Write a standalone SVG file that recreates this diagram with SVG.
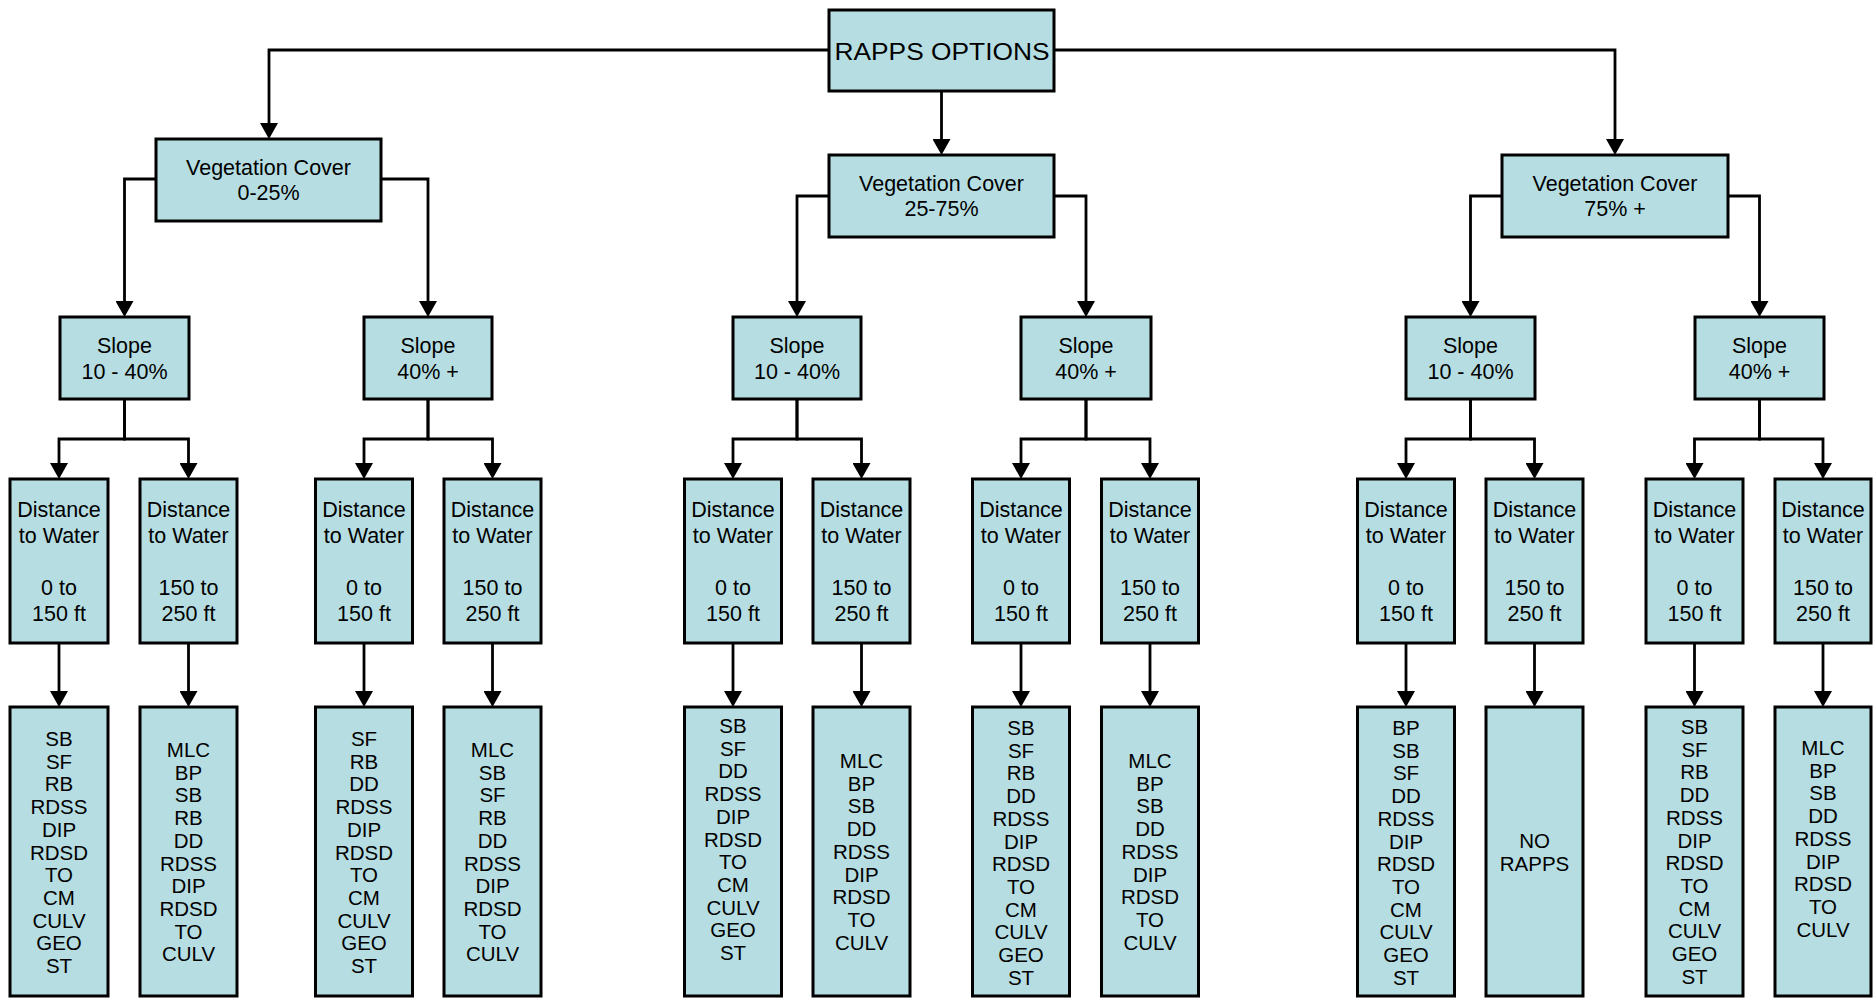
<svg xmlns="http://www.w3.org/2000/svg" width="1874" height="998" viewBox="0 0 1874 998">
<style>
.box{fill:#b6dee2;stroke:#000;stroke-width:3}
.t{font-family:"Liberation Sans",Arial,sans-serif;font-size:21.5px;fill:#000;text-anchor:middle}
.r{font-family:"Liberation Sans",Arial,sans-serif;font-size:20.5px;fill:#000;text-anchor:middle}
.c{fill:none;stroke:#000;stroke-width:2.8;marker-end:url(#ah)}
</style>
<defs>
<marker id="ah" viewBox="0 0 16 18" refX="0" refY="9" markerWidth="16" markerHeight="18" markerUnits="userSpaceOnUse" orient="auto">
<path d="M0,0 L16,9 L0,18 z" fill="#000"/>
</marker>
</defs>
<rect width="1874" height="998" fill="#fff"/>
<g id="connectors">
<path class="c" d="M829,50 H269 V123"/>
<path class="c" d="M1054,50 H1615 V139"/>
<path class="c" d="M941.5,91 V139"/>
<path class="c" d="M156,179 H124.5 V301"/>
<path class="c" d="M381,179 H428 V301"/>
<path class="c" d="M829,196 H797 V301"/>
<path class="c" d="M1054,196 H1086 V301"/>
<path class="c" d="M1502,196 H1470.5 V301"/>
<path class="c" d="M1728,196 H1759.5 V301"/>
<path class="c" d="M124.5,399 V439 H59 V463"/>
<path class="c" d="M124.5,399 V439 H188.5 V463"/>
<path class="c" d="M428,399 V439 H364 V463"/>
<path class="c" d="M428,399 V439 H492.5 V463"/>
<path class="c" d="M797,399 V439 H733 V463"/>
<path class="c" d="M797,399 V439 H861.5 V463"/>
<path class="c" d="M1086,399 V439 H1021 V463"/>
<path class="c" d="M1086,399 V439 H1150 V463"/>
<path class="c" d="M1470.5,399 V439 H1406 V463"/>
<path class="c" d="M1470.5,399 V439 H1534.5 V463"/>
<path class="c" d="M1759.5,399 V439 H1694.5 V463"/>
<path class="c" d="M1759.5,399 V439 H1823 V463"/>
<path class="c" d="M59,643 V691"/>
<path class="c" d="M188.5,643 V691"/>
<path class="c" d="M364,643 V691"/>
<path class="c" d="M492.5,643 V691"/>
<path class="c" d="M733,643 V691"/>
<path class="c" d="M861.5,643 V691"/>
<path class="c" d="M1021,643 V691"/>
<path class="c" d="M1150,643 V691"/>
<path class="c" d="M1406,643 V691"/>
<path class="c" d="M1534.5,643 V691"/>
<path class="c" d="M1694.5,643 V691"/>
<path class="c" d="M1823,643 V691"/>
</g>
<g id="root"><rect class="box" x="829" y="10" width="225" height="81"/><text class="t" x="942" y="60" style="font-size:24px" textLength="215" lengthAdjust="spacingAndGlyphs">RAPPS OPTIONS</text></g>
<g id="veg1"><rect class="box" x="156" y="139" width="225" height="82"/><text class="t" x="268.5" y="175">Vegetation Cover</text><text class="t" x="268.5" y="200">0-25%</text></g>
<g id="veg2"><rect class="box" x="829" y="155" width="225" height="82"/><text class="t" x="941.5" y="191">Vegetation Cover</text><text class="t" x="941.5" y="216">25-75%</text></g>
<g id="veg3"><rect class="box" x="1502" y="155" width="226" height="82"/><text class="t" x="1615" y="191">Vegetation Cover</text><text class="t" x="1615" y="216">75% +</text></g>
<g id="slope1"><rect class="box" x="60" y="317" width="129" height="82"/><text class="t" x="124.5" y="353">Slope</text><text class="t" x="124.5" y="379">10 - 40%</text></g>
<g id="slope2"><rect class="box" x="364" y="317" width="128" height="82"/><text class="t" x="428" y="353">Slope</text><text class="t" x="428" y="379">40% +</text></g>
<g id="slope3"><rect class="box" x="733" y="317" width="128" height="82"/><text class="t" x="797" y="353">Slope</text><text class="t" x="797" y="379">10 - 40%</text></g>
<g id="slope4"><rect class="box" x="1021" y="317" width="130" height="82"/><text class="t" x="1086" y="353">Slope</text><text class="t" x="1086" y="379">40% +</text></g>
<g id="slope5"><rect class="box" x="1406" y="317" width="129" height="82"/><text class="t" x="1470.5" y="353">Slope</text><text class="t" x="1470.5" y="379">10 - 40%</text></g>
<g id="slope6"><rect class="box" x="1695" y="317" width="129" height="82"/><text class="t" x="1759.5" y="353">Slope</text><text class="t" x="1759.5" y="379">40% +</text></g>
<g id="dist1"><rect class="box" x="10" y="479" width="98" height="164"/><text class="t" x="59" y="517">Distance</text><text class="t" x="59" y="543">to Water</text><text class="t" x="59" y="595">0 to</text><text class="t" x="59" y="621">150 ft</text></g>
<g id="dist2"><rect class="box" x="140" y="479" width="97" height="164"/><text class="t" x="188.5" y="517">Distance</text><text class="t" x="188.5" y="543">to Water</text><text class="t" x="188.5" y="595">150 to</text><text class="t" x="188.5" y="621">250 ft</text></g>
<g id="dist3"><rect class="box" x="315.5" y="479" width="97" height="164"/><text class="t" x="364" y="517">Distance</text><text class="t" x="364" y="543">to Water</text><text class="t" x="364" y="595">0 to</text><text class="t" x="364" y="621">150 ft</text></g>
<g id="dist4"><rect class="box" x="444" y="479" width="97" height="164"/><text class="t" x="492.5" y="517">Distance</text><text class="t" x="492.5" y="543">to Water</text><text class="t" x="492.5" y="595">150 to</text><text class="t" x="492.5" y="621">250 ft</text></g>
<g id="dist5"><rect class="box" x="684.5" y="479" width="97" height="164"/><text class="t" x="733" y="517">Distance</text><text class="t" x="733" y="543">to Water</text><text class="t" x="733" y="595">0 to</text><text class="t" x="733" y="621">150 ft</text></g>
<g id="dist6"><rect class="box" x="813" y="479" width="97" height="164"/><text class="t" x="861.5" y="517">Distance</text><text class="t" x="861.5" y="543">to Water</text><text class="t" x="861.5" y="595">150 to</text><text class="t" x="861.5" y="621">250 ft</text></g>
<g id="dist7"><rect class="box" x="972.5" y="479" width="97" height="164"/><text class="t" x="1021" y="517">Distance</text><text class="t" x="1021" y="543">to Water</text><text class="t" x="1021" y="595">0 to</text><text class="t" x="1021" y="621">150 ft</text></g>
<g id="dist8"><rect class="box" x="1101.5" y="479" width="97" height="164"/><text class="t" x="1150" y="517">Distance</text><text class="t" x="1150" y="543">to Water</text><text class="t" x="1150" y="595">150 to</text><text class="t" x="1150" y="621">250 ft</text></g>
<g id="dist9"><rect class="box" x="1357.5" y="479" width="97" height="164"/><text class="t" x="1406" y="517">Distance</text><text class="t" x="1406" y="543">to Water</text><text class="t" x="1406" y="595">0 to</text><text class="t" x="1406" y="621">150 ft</text></g>
<g id="dist10"><rect class="box" x="1486" y="479" width="97" height="164"/><text class="t" x="1534.5" y="517">Distance</text><text class="t" x="1534.5" y="543">to Water</text><text class="t" x="1534.5" y="595">150 to</text><text class="t" x="1534.5" y="621">250 ft</text></g>
<g id="dist11"><rect class="box" x="1646" y="479" width="97" height="164"/><text class="t" x="1694.5" y="517">Distance</text><text class="t" x="1694.5" y="543">to Water</text><text class="t" x="1694.5" y="595">0 to</text><text class="t" x="1694.5" y="621">150 ft</text></g>
<g id="dist12"><rect class="box" x="1775" y="479" width="96" height="164"/><text class="t" x="1823" y="517">Distance</text><text class="t" x="1823" y="543">to Water</text><text class="t" x="1823" y="595">150 to</text><text class="t" x="1823" y="621">250 ft</text></g>
<g id="res1"><rect class="box" x="10" y="707" width="98" height="289"/><text class="r" y="746"><tspan x="59">SB</tspan><tspan x="59" dy="22.7">SF</tspan><tspan x="59" dy="22.7">RB</tspan><tspan x="59" dy="22.7">RDSS</tspan><tspan x="59" dy="22.7">DIP</tspan><tspan x="59" dy="22.7">RDSD</tspan><tspan x="59" dy="22.7">TO</tspan><tspan x="59" dy="22.7">CM</tspan><tspan x="59" dy="22.7">CULV</tspan><tspan x="59" dy="22.7">GEO</tspan><tspan x="59" dy="22.7">ST</tspan></text></g>
<g id="res2"><rect class="box" x="140" y="707" width="97" height="289"/><text class="r" y="757"><tspan x="188.5">MLC</tspan><tspan x="188.5" dy="22.7">BP</tspan><tspan x="188.5" dy="22.7">SB</tspan><tspan x="188.5" dy="22.7">RB</tspan><tspan x="188.5" dy="22.7">DD</tspan><tspan x="188.5" dy="22.7">RDSS</tspan><tspan x="188.5" dy="22.7">DIP</tspan><tspan x="188.5" dy="22.7">RDSD</tspan><tspan x="188.5" dy="22.7">TO</tspan><tspan x="188.5" dy="22.7">CULV</tspan></text></g>
<g id="res3"><rect class="box" x="315.5" y="707" width="97" height="289"/><text class="r" y="746"><tspan x="364">SF</tspan><tspan x="364" dy="22.7">RB</tspan><tspan x="364" dy="22.7">DD</tspan><tspan x="364" dy="22.7">RDSS</tspan><tspan x="364" dy="22.7">DIP</tspan><tspan x="364" dy="22.7">RDSD</tspan><tspan x="364" dy="22.7">TO</tspan><tspan x="364" dy="22.7">CM</tspan><tspan x="364" dy="22.7">CULV</tspan><tspan x="364" dy="22.7">GEO</tspan><tspan x="364" dy="22.7">ST</tspan></text></g>
<g id="res4"><rect class="box" x="444" y="707" width="97" height="289"/><text class="r" y="757"><tspan x="492.5">MLC</tspan><tspan x="492.5" dy="22.7">SB</tspan><tspan x="492.5" dy="22.7">SF</tspan><tspan x="492.5" dy="22.7">RB</tspan><tspan x="492.5" dy="22.7">DD</tspan><tspan x="492.5" dy="22.7">RDSS</tspan><tspan x="492.5" dy="22.7">DIP</tspan><tspan x="492.5" dy="22.7">RDSD</tspan><tspan x="492.5" dy="22.7">TO</tspan><tspan x="492.5" dy="22.7">CULV</tspan></text></g>
<g id="res5"><rect class="box" x="684.5" y="707" width="97" height="289"/><text class="r" y="733"><tspan x="733">SB</tspan><tspan x="733" dy="22.7">SF</tspan><tspan x="733" dy="22.7">DD</tspan><tspan x="733" dy="22.7">RDSS</tspan><tspan x="733" dy="22.7">DIP</tspan><tspan x="733" dy="22.7">RDSD</tspan><tspan x="733" dy="22.7">TO</tspan><tspan x="733" dy="22.7">CM</tspan><tspan x="733" dy="22.7">CULV</tspan><tspan x="733" dy="22.7">GEO</tspan><tspan x="733" dy="22.7">ST</tspan></text></g>
<g id="res6"><rect class="box" x="813" y="707" width="97" height="289"/><text class="r" y="768"><tspan x="861.5">MLC</tspan><tspan x="861.5" dy="22.7">BP</tspan><tspan x="861.5" dy="22.7">SB</tspan><tspan x="861.5" dy="22.7">DD</tspan><tspan x="861.5" dy="22.7">RDSS</tspan><tspan x="861.5" dy="22.7">DIP</tspan><tspan x="861.5" dy="22.7">RDSD</tspan><tspan x="861.5" dy="22.7">TO</tspan><tspan x="861.5" dy="22.7">CULV</tspan></text></g>
<g id="res7"><rect class="box" x="972.5" y="707" width="97" height="289"/><text class="r" y="735"><tspan x="1021">SB</tspan><tspan x="1021" dy="22.7">SF</tspan><tspan x="1021" dy="22.7">RB</tspan><tspan x="1021" dy="22.7">DD</tspan><tspan x="1021" dy="22.7">RDSS</tspan><tspan x="1021" dy="22.7">DIP</tspan><tspan x="1021" dy="22.7">RDSD</tspan><tspan x="1021" dy="22.7">TO</tspan><tspan x="1021" dy="22.7">CM</tspan><tspan x="1021" dy="22.7">CULV</tspan><tspan x="1021" dy="22.7">GEO</tspan><tspan x="1021" dy="22.7">ST</tspan></text></g>
<g id="res8"><rect class="box" x="1101.5" y="707" width="97" height="289"/><text class="r" y="768"><tspan x="1150">MLC</tspan><tspan x="1150" dy="22.7">BP</tspan><tspan x="1150" dy="22.7">SB</tspan><tspan x="1150" dy="22.7">DD</tspan><tspan x="1150" dy="22.7">RDSS</tspan><tspan x="1150" dy="22.7">DIP</tspan><tspan x="1150" dy="22.7">RDSD</tspan><tspan x="1150" dy="22.7">TO</tspan><tspan x="1150" dy="22.7">CULV</tspan></text></g>
<g id="res9"><rect class="box" x="1357.5" y="707" width="97" height="289"/><text class="r" y="735"><tspan x="1406">BP</tspan><tspan x="1406" dy="22.7">SB</tspan><tspan x="1406" dy="22.7">SF</tspan><tspan x="1406" dy="22.7">DD</tspan><tspan x="1406" dy="22.7">RDSS</tspan><tspan x="1406" dy="22.7">DIP</tspan><tspan x="1406" dy="22.7">RDSD</tspan><tspan x="1406" dy="22.7">TO</tspan><tspan x="1406" dy="22.7">CM</tspan><tspan x="1406" dy="22.7">CULV</tspan><tspan x="1406" dy="22.7">GEO</tspan><tspan x="1406" dy="22.7">ST</tspan></text></g>
<g id="res10"><rect class="box" x="1486" y="707" width="97" height="289"/><text class="r" y="848"><tspan x="1534.5">NO</tspan><tspan x="1534.5" dy="22.7">RAPPS</tspan></text></g>
<g id="res11"><rect class="box" x="1646" y="707" width="97" height="289"/><text class="r" y="734"><tspan x="1694.5">SB</tspan><tspan x="1694.5" dy="22.7">SF</tspan><tspan x="1694.5" dy="22.7">RB</tspan><tspan x="1694.5" dy="22.7">DD</tspan><tspan x="1694.5" dy="22.7">RDSS</tspan><tspan x="1694.5" dy="22.7">DIP</tspan><tspan x="1694.5" dy="22.7">RDSD</tspan><tspan x="1694.5" dy="22.7">TO</tspan><tspan x="1694.5" dy="22.7">CM</tspan><tspan x="1694.5" dy="22.7">CULV</tspan><tspan x="1694.5" dy="22.7">GEO</tspan><tspan x="1694.5" dy="22.7">ST</tspan></text></g>
<g id="res12"><rect class="box" x="1775" y="707" width="96" height="289"/><text class="r" y="755"><tspan x="1823">MLC</tspan><tspan x="1823" dy="22.7">BP</tspan><tspan x="1823" dy="22.7">SB</tspan><tspan x="1823" dy="22.7">DD</tspan><tspan x="1823" dy="22.7">RDSS</tspan><tspan x="1823" dy="22.7">DIP</tspan><tspan x="1823" dy="22.7">RDSD</tspan><tspan x="1823" dy="22.7">TO</tspan><tspan x="1823" dy="22.7">CULV</tspan></text></g>
</svg>
